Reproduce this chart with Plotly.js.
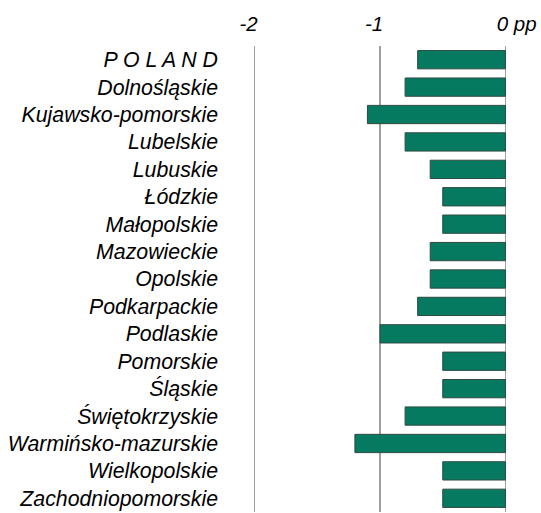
<!DOCTYPE html>
<html>
<head>
<meta charset="utf-8">
<script src="https://cdn.plot.ly/plotly-3.0.1.min.js"></script>
<style>html,body{margin:0;padding:0;background:#fff;}#chart{width:541px;height:513px;}</style>
</head>
<body>
<div id="chart"></div>
<script>
var regions = ["P O L A N D", "Dolnośląskie", "Kujawsko-pomorskie", "Lubelskie", "Lubuskie", "Łódzkie", "Małopolskie", "Mazowieckie", "Opolskie", "Podkarpackie", "Podlaskie", "Pomorskie", "Śląskie", "Świętokrzyskie", "Warmińsko-mazurskie", "Wielkopolskie", "Zachodniopomorskie"];
var changes = [-0.7, -0.8, -1.1, -0.8, -0.6, -0.5, -0.5, -0.6, -0.6, -0.7, -1.0, -0.5, -0.5, -0.8, -1.2, -0.5, -0.5];
var tickVals = [-2, -1, 0];
var tickLabels = ["-2", "-1", "\u00a0\u00a0\u00a0\u00a0\u00a0\u00a00 pp"];

var fam = "Liberation Sans, Arial, sans-serif";

Plotly.newPlot("chart", [{
  type: "bar",
  orientation: "h",
  x: changes,
  y: regions,
  marker: {color: "#067a60", line: {color: "#2f4a42", width: 1}},
  hoverinfo: "none"
}], {
  width: 541, height: 513,
  margin: {l: 251.5, r: 32.8, t: 45.5, b: 0.8},
  paper_bgcolor: "#fff", plot_bgcolor: "#fff",
  bargap: 0.333,
  showlegend: false,
  xaxis: {
    side: "top",
    range: [-2.02, 0.02],
    tickvals: tickVals,
    ticktext: tickLabels,
    tickfont: {family: fam, size: 20.5, color: "#000", style: "italic"},
    showgrid: true, gridcolor: "#a0a0a0", gridwidth: 1.6,
    zeroline: false, showline: false, ticks: "",
    ticklabelshift: -6,
    ticklabelstandoff: 10,
    fixedrange: true
  },
  yaxis: {
    autorange: false,
    range: [16.5, -0.5],
    type: "category",
    tickfont: {family: fam, size: 21.3, color: "#000", style: "italic"},
    showgrid: false, zeroline: false, showline: false, ticks: "",
    ticklabelstandoff: 33,
    fixedrange: true
  }
}, {displayModeBar: false, staticPlot: true});
</script>
</body>
</html>
